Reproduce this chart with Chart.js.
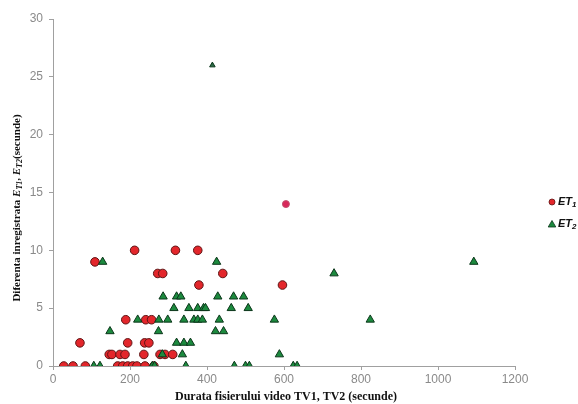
<!DOCTYPE html>
<html>
<head>
<meta charset="utf-8">
<script src="https://cdn.jsdelivr.net/npm/chart.js@4.4.1/dist/chart.umd.min.js"></script>
<style>
  html, body { margin: 0; padding: 0; background: #ffffff; }
  #wrap { width: 578px; height: 404px; position: relative; }
</style>
</head>
<body>
<div id="wrap"><canvas id="c" width="578" height="404"></canvas></div>
<script>
// ET1 series (red circles)
const et1X = [605, 212, 318, 376, 109, 272, 285, 441, 379, 596, 189, 241, 256, 70, 194, 238, 249,
              146, 153, 174, 187, 236, 278, 291, 311, 28, 52, 84, 168, 181, 194, 207, 218, 239, 262];
const et1Y = [14, 10, 10, 10, 9, 8, 8, 8, 7, 7, 4, 4, 4, 2, 2, 2, 2,
              1, 1, 1, 1, 1, 1, 1, 1, 0, 0, 0, 0, 0, 0, 0, 0, 0, 0];
// ET2 series (green triangles)
const et2X = [414, 129, 425, 1093, 730, 286, 321, 332, 428, 469, 495, 314, 353, 376, 391, 396, 463, 507,
              220, 275, 298, 340, 366, 376, 388, 432, 575, 824, 148, 274, 422, 443, 321, 340, 357,
              284, 336, 588, 106, 122, 258, 264, 345, 471, 500, 510, 624, 634];
const et2Y = [26, 9, 9, 9, 8, 6, 6, 6, 6, 6, 6, 5, 5, 5, 5, 5, 5, 5,
              4, 4, 4, 4, 4, 4, 4, 4, 4, 4, 3, 3, 3, 3, 2, 2, 2,
              1, 1, 1, 0, 0, 0, 0, 0, 0, 0, 0, 0, 0];
const seriesNames = ['ET1', 'ET2'];
const xTicks = [0, 200, 400, 600, 800, 1000, 1200];
const yTicks = [0, 5, 10, 15, 20, 25, 30];
const xTitle = 'Durata fisierului video TV1, TV2 (secunde)';
const yTitleParts = ['Diferenta inregistrata ', 'E', 'T1', ', ', 'E', 'T2', '(secunde)'];

const toPts = (xs, ys) => xs.map((x, i) => ({ x: x, y: ys[i] }));

const RED = '#e3262b', RED_EDGE = '#5e1414';
const GREEN = '#1c8a3e', GREEN_EDGE = '#0b361a';
const TICK_COL = '#8a8a8a', AXIS_COL = '#a0a0a0';

const overlay = {
  id: 'overlay',
  afterDraw(chart) {
    const ctx = chart.ctx;
    ctx.save();
    // X title
    ctx.fillStyle = '#111';
    ctx.font = 'bold 12px "Liberation Serif"';
    ctx.textAlign = 'center';
    ctx.textBaseline = 'middle';
    ctx.fillText(xTitle, 286, 397);

    // Y title with subscripts
    const fMain = 'bold 11px "Liberation Serif"';
    const fIt = 'bold italic 11px "Liberation Serif"';
    const fSub = 'bold italic 8px "Liberation Serif"';
    const fonts = [fMain, fIt, fSub, fMain, fIt, fSub, fMain];
    const offs = [0, 0, 3, 0, 0, 3, 0];
    let total = 0;
    const widths = yTitleParts.map((t, i) => { ctx.font = fonts[i]; const w = ctx.measureText(t).width; total += w; return w; });
    ctx.translate(17, 208);
    ctx.rotate(-Math.PI / 2);
    ctx.textAlign = 'left';
    let xx = -total / 2;
    yTitleParts.forEach((t, i) => {
      ctx.font = fonts[i];
      ctx.fillText(t, xx, offs[i]);
      xx += widths[i];
    });
    ctx.restore();

    // Legend (clipped at right edge like reference)
    ctx.save();
    ctx.lineWidth = 0.8;
    ctx.fillStyle = RED; ctx.strokeStyle = RED_EDGE;
    ctx.beginPath(); ctx.arc(552, 202, 3, 0, Math.PI * 2); ctx.fill(); ctx.stroke();
    ctx.fillStyle = GREEN; ctx.strokeStyle = GREEN_EDGE;
    ctx.beginPath(); ctx.moveTo(552, 220.5); ctx.lineTo(555.8, 227); ctx.lineTo(548.2, 227); ctx.closePath(); ctx.fill(); ctx.stroke();
    ctx.fillStyle = '#111';
    ctx.textBaseline = 'middle';
    ctx.textAlign = 'left';
    [[seriesNames[0], 202], [seriesNames[1], 224]].forEach(([name, y]) => {
      ctx.font = 'bold italic 11px "Liberation Sans"';
      const base = name.slice(0, 2);
      ctx.fillText(base, 558, y);
      const w = ctx.measureText(base).width;
      ctx.font = 'bold italic 8px "Liberation Sans"';
      ctx.fillText(name.slice(2), 558 + w, y + 3);
    });
    ctx.restore();
  }
};

new Chart(document.getElementById('c'), {
  type: 'scatter',
  data: {
    datasets: [
      {
        label: seriesNames[0],
        data: toPts(et1X, et1Y),
        pointStyle: 'circle',
        pointRadius: (c) => (c.raw && c.raw.y > 12 ? 3.5 : 4.3),
        pointBackgroundColor: (c) => (c.raw && c.raw.y > 12 ? '#d8285a' : RED),
        pointBorderColor: (c) => (c.raw && c.raw.y > 12 ? '#c2506e' : RED_EDGE),
        pointBorderWidth: 1,
        order: 1
      },
      {
        label: seriesNames[1],
        data: toPts(et2X, et2Y),
        pointStyle: 'triangle',
        pointRadius: (c) => (c.raw && c.raw.y > 12 ? 3.2 : 4.8),
        pointBackgroundColor: (c) => (c.raw && c.raw.y > 12 ? '#2a6a45' : GREEN),
        pointBorderColor: GREEN_EDGE,
        pointBorderWidth: 1,
        order: 0
      }
    ]
  },
  options: {
    responsive: false,
    animation: false,
    layout: { padding: { left: 0, top: 19, right: 63, bottom: 0 } },
    plugins: { legend: { display: false }, tooltip: { enabled: false } },
    scales: {
      x: {
        type: 'linear',
        min: xTicks[0],
        max: xTicks[xTicks.length - 1],
        afterBuildTicks: (s) => { s.ticks = xTicks.map(v => ({ value: v })); },
        afterFit: (s) => { s.height = 38; },
        ticks: { color: TICK_COL, font: { family: 'Liberation Sans', size: 12 }, padding: 2, maxRotation: 0,
                 callback: (v) => String(v) },
        grid: { drawOnChartArea: false, drawTicks: true, tickLength: 4, color: AXIS_COL, tickColor: AXIS_COL },
        border: { display: true, color: AXIS_COL, width: 1 }
      },
      y: {
        type: 'linear',
        min: yTicks[0],
        max: yTicks[yTicks.length - 1],
        afterBuildTicks: (s) => { s.ticks = yTicks.map(v => ({ value: v })); },
        afterFit: (s) => { s.width = 53; },
        ticks: { color: TICK_COL, font: { family: 'Liberation Sans', size: 12 }, padding: 6,
                 callback: (v) => String(v) },
        grid: { drawOnChartArea: false, drawTicks: true, tickLength: 4, color: AXIS_COL, tickColor: AXIS_COL },
        border: { display: true, color: AXIS_COL, width: 1 }
      }
    }
  },
  plugins: [overlay]
});
</script>
</body>
</html>
